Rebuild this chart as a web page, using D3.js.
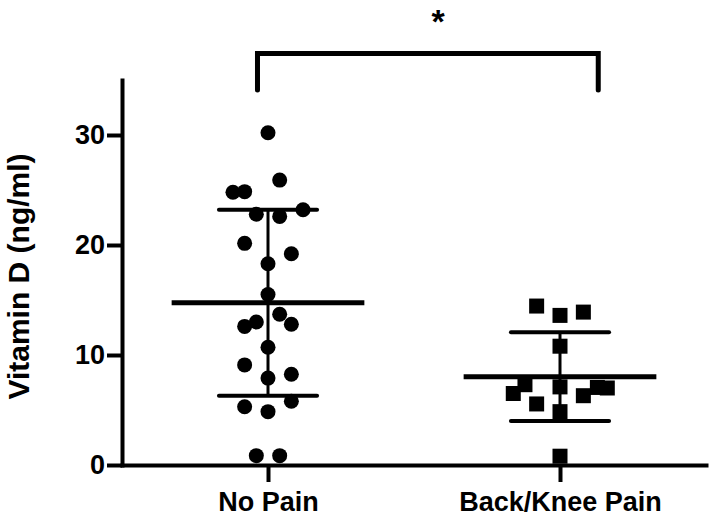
<!DOCTYPE html>
<html>
<head>
<meta charset="utf-8">
<script src="https://cdn.jsdelivr.net/npm/d3@7"></script>
<style>
  body { margin: 0; background: #fff; }
  svg text { font-family: "Liberation Sans", Arial, sans-serif; font-weight: bold; fill: #000; }
</style>
</head>
<body>
<svg width="713" height="518"></svg>
<script>
// groups on the x axis
var groups = ["No Pain", "Back/Knee Pain"];

// Vitamin D values
var noPain = [30.2, 25.9, 24.8, 24.85, 22.8, 22.6, 23.2, 20.15, 19.2, 18.3, 15.5, 13.7,
              13.0, 12.6, 12.8, 10.7, 9.1, 7.9, 8.25, 5.3, 4.85, 5.8, 0.85, 0.85];
// horizontal scatter slot of each point (Prism style spread)
var noPainSpread = [0, 1, -3, -2, -1, 1, 3, -2, 2, 0, 0, 1,
                    -1, -2, 2, 0, -2, 0, 2, -2, 0, 2, -1, 1];

var backKnee = [14.45, 13.6, 13.9, 10.8, 7.1, 6.5, 7.3, 5.55, 6.3, 7.05, 7.0, 4.85, 0.8];
var backKneeSpread = [-2, 0, 2, 0, 0, -4, -3, -2, 2, 3.2, 4.05, 0, 0];

// mean and SD per group
var means = [14.75, 8.03];
var sds = [8.45, 4.03];

var yTicks = [0, 10, 20, 30];
var yLabel = "Vitamin D (ng/ml)";
var sigLabel = "*";
// bracket ends (group units) and height (data units)
var bracketX = [-0.036, 1.131];
var bracketY = [37.4, 34.1];

var svg = d3.select("svg");

var x = d3.scaleLinear().domain([-0.5, 1.5]).range([122, 706]);
var y = d3.scaleLinear().domain([0, 35]).range([465, 80]);
var slot = 0.04; // one scatter slot in group units

// axes
var yAxis = svg.append("g")
    .attr("transform", "translate(" + x(-0.5) + ",0)")
    .call(d3.axisLeft(y).tickValues(yTicks).tickSize(15).tickSizeOuter(0).tickPadding(2));
yAxis.selectAll("text").style("font-size", "27px");

var xAxis = svg.append("g")
    .attr("transform", "translate(0," + y(0) + ")")
    .call(d3.axisBottom(x).tickValues([0, 1]).tickFormat(function(d) { return groups[d]; })
      .tickSize(17).tickSizeOuter(0).tickPadding(10));
xAxis.selectAll("text").style("font-size", "27px");

svg.selectAll(".domain").attr("stroke", "#000").attr("stroke-width", 4).attr("stroke-linecap", "square");
svg.selectAll(".tick line").attr("stroke", "#000").attr("stroke-width", 4);

svg.append("text")
    .attr("transform", "translate(29," + ((y(0) + y(35)) / 2 + 4) + ") rotate(-90)")
    .attr("text-anchor", "middle")
    .style("font-size", "30px")
    .text(yLabel);

// mean and SD bars
var stats = groups.map(function(g, i) { return { i: i, mean: means[i], sd: sds[i] }; });
var bars = svg.append("g").selectAll("g").data(stats).enter().append("g");
bars.append("line")
    .attr("x1", function(d) { return x(d.i); }).attr("x2", function(d) { return x(d.i); })
    .attr("y1", function(d) { return y(d.mean + d.sd); }).attr("y2", function(d) { return y(d.mean - d.sd); })
    .attr("stroke", "#000").attr("stroke-width", 3);
[1, -1].forEach(function(s) {
  bars.append("line")
      .attr("x1", function(d) { return x(d.i - 0.168); }).attr("x2", function(d) { return x(d.i + 0.168); })
      .attr("y1", function(d) { return y(d.mean + s * d.sd); }).attr("y2", function(d) { return y(d.mean + s * d.sd); })
      .attr("stroke", "#000").attr("stroke-width", 4).attr("stroke-linecap", "round");
});
bars.append("line")
    .attr("x1", function(d) { return x(d.i - 0.33); }).attr("x2", function(d) { return x(d.i + 0.33); })
    .attr("y1", function(d) { return y(d.mean); }).attr("y2", function(d) { return y(d.mean); })
    .attr("stroke", "#000").attr("stroke-width", 5);

// points
svg.append("g").selectAll("circle")
    .data(noPain).enter().append("circle")
    .attr("cx", function(d, i) { return x(0 + noPainSpread[i] * slot); })
    .attr("cy", function(d) { return y(d); })
    .attr("r", 7.5)
    .attr("fill", "#000");

svg.append("g").selectAll("rect")
    .data(backKnee).enter().append("rect")
    .attr("x", function(d, i) { return x(1 + backKneeSpread[i] * slot) - 7.5; })
    .attr("y", function(d) { return y(d) - 7.5; })
    .attr("width", 15).attr("height", 15)
    .attr("fill", "#000");

// significance bracket
svg.append("path")
    .attr("d", d3.line()([[x(bracketX[0]), y(bracketY[1])], [x(bracketX[0]), y(bracketY[0])],
                          [x(bracketX[1]), y(bracketY[0])], [x(bracketX[1]), y(bracketY[1])]]))
    .attr("fill", "none").attr("stroke", "#000").attr("stroke-width", 5)
    .attr("stroke-linecap", "round");

svg.append("text")
    .attr("x", 438).attr("y", 33)
    .attr("text-anchor", "middle")
    .style("font-size", "34px")
    .text(sigLabel);
</script>
</body>
</html>
